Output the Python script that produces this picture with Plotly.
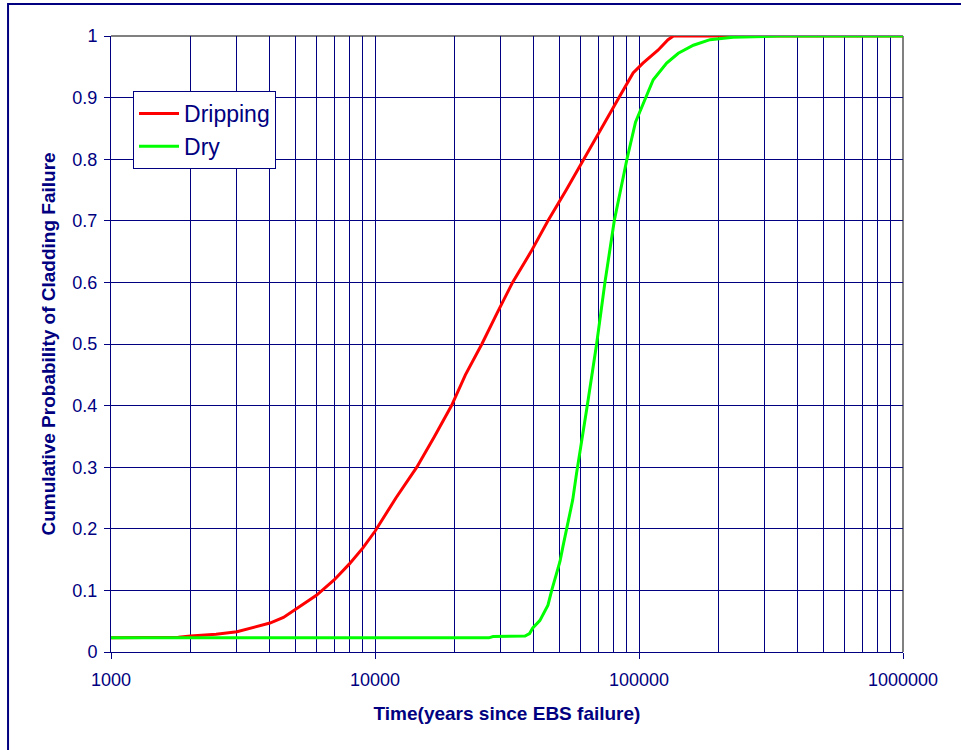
import plotly.graph_objects as go

# Cumulative probability of cladding failure vs. time since EBS failure
dripping_t = [1000, 1500, 1800, 2000, 2500, 3000, 3500, 4000, 4500, 5000, 6000, 7000, 8000,
              9000, 10000, 12000, 14400, 16800, 19500, 22000, 25400, 29000, 33200, 39000,
              45200, 53000, 62000, 72000, 84000, 95000, 103500, 118000, 128800, 135000,
              1000000]
dripping_p = [0.023, 0.023, 0.024, 0.026, 0.029, 0.033, 0.041, 0.047, 0.056, 0.069, 0.092,
              0.117, 0.143, 0.169, 0.196, 0.25, 0.30, 0.35, 0.40, 0.45, 0.50, 0.55, 0.60,
              0.65, 0.70, 0.75, 0.80, 0.85, 0.90, 0.94, 0.956, 0.977, 0.994, 1.0, 1.0]

dry_t = [1000, 27000, 28000, 37000, 38500, 39600, 42100, 45200, 46700, 48700, 50200, 51500,
         53200, 54800, 56100, 58000, 61700, 63700, 69100, 74300, 80600, 90000, 97000,
         106400, 113200, 127300, 140900, 160700, 185800, 227000, 340000, 1000000]
dry_p = [0.023, 0.023, 0.025, 0.026, 0.030, 0.039, 0.051, 0.076, 0.10, 0.125, 0.147, 0.171,
         0.198, 0.225, 0.247, 0.29, 0.36, 0.40, 0.50, 0.60, 0.70, 0.80, 0.86, 0.90, 0.929,
         0.956, 0.972, 0.985, 0.994, 0.998, 1.0, 1.0]

x_major = [1000, 10000, 100000, 1000000]
x_major_text = ["1000", "10000", "100000", "1000000"]
x_minor = [m * d for d in (1000, 10000, 100000) for m in range(2, 10)]
y_ticks = [0, 0.1, 0.2, 0.3, 0.4, 0.5, 0.6, 0.7, 0.8, 0.9, 1]
y_ticks_text = ["0", "0.1", "0.2", "0.3", "0.4", "0.5", "0.6", "0.7", "0.8", "0.9", "1"]

NAVY = "#000080"
FONT = "Liberation Sans, Arial, sans-serif"

fig = go.Figure()
fig.add_trace(go.Scatter(x=dripping_t, y=dripping_p, mode="lines", name="Dripping",
                         line=dict(color="#ff0000", width=3)))
fig.add_trace(go.Scatter(x=dry_t, y=dry_p, mode="lines", name="Dry",
                         line=dict(color="#00ff00", width=3)))

fig.update_layout(
    width=961, height=750,
    margin=dict(l=111, r=58, t=36, b=98),
    paper_bgcolor="white", plot_bgcolor="white",
    font=dict(family=FONT, color=NAVY, size=18),
    showlegend=True,
    legend=dict(x=0.0278, y=0.9107, xanchor="left", yanchor="top",
                bgcolor="white", bordercolor=NAVY, borderwidth=1,
                font=dict(size=23, color=NAVY), tracegroupgap=0, itemwidth=40),
    xaxis=dict(
        type="log", range=[3, 6],
        tickvals=x_major, ticktext=x_major_text,
        ticks="outside", ticklen=6, tickcolor=NAVY, tickwidth=1,
        ticklabelstandoff=5,
        showline=True, linecolor=NAVY, linewidth=1,
        showgrid=True, gridcolor=NAVY, gridwidth=1,
        minor=dict(tickvals=x_minor, showgrid=True, gridcolor=NAVY, gridwidth=1, ticklen=0),
        tickfont=dict(size=18, color=NAVY),
        title=dict(text="<b>Time(years since EBS failure)</b>",
                   font=dict(size=19, color=NAVY), standoff=18),
        zeroline=False,
    ),
    yaxis=dict(
        range=[0, 1],
        tickvals=y_ticks, ticktext=y_ticks_text,
        ticks="outside", ticklen=6, tickcolor=NAVY, tickwidth=1,
        ticklabelstandoff=3,
        showline=True, linecolor=NAVY, linewidth=1,
        showgrid=True, gridcolor=NAVY, gridwidth=1,
        tickfont=dict(size=18, color=NAVY),
        title=dict(text="<b>Cumulative Probability of Cladding Failure</b>",
                   font=dict(size=19, color=NAVY), standoff=11),
        zeroline=False,
    ),
    shapes=[
        # outer chart border
        dict(type="rect", xref="paper", yref="paper",
             x0=-0.130, x1=1.3, y0=-0.4, y1=1.0519,
             line=dict(color=NAVY, width=2), fillcolor="rgba(0,0,0,0)", layer="below"),
        # grey top and right frame of the plot area
        dict(type="line", xref="paper", yref="paper", x0=0, x1=1, y0=1, y1=1,
             line=dict(color="#808080", width=2), layer="between"),
        dict(type="line", xref="paper", yref="paper", x0=1, x1=1, y0=0, y1=1,
             line=dict(color="#808080", width=2), layer="between"),
    ],
)

fig.write_html("out.html")
